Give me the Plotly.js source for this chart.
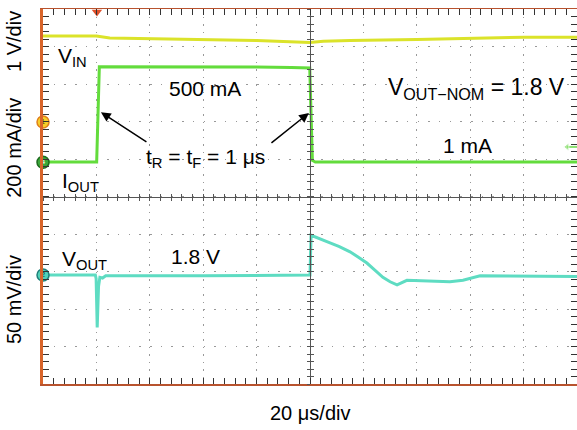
<!DOCTYPE html>
<html>
<head>
<meta charset="utf-8">
<script src="https://cdn.plot.ly/plotly-3.0.1.min.js"></script>
<style>html,body{margin:0;padding:0;background:#fff}#chart{width:577px;height:430px}</style>
</head>
<body>
<div id="chart"></div>
<script>
// ---- data (time in microseconds) ----
const tVin  = [0, 10, 20, 25, 40, 60, 80, 95, 100, 105, 115, 140, 170, 180, 200];
const vin   = [2.29, 2.29, 2.29, 2.24, 2.22, 2.20, 2.17, 2.13, 2.12, 2.15, 2.17, 2.20, 2.24, 2.26, 2.26];

const tIout = [0, 20.1, 21.1, 60, 80, 93, 99.9, 100.9, 102, 200];
const iout  = [1, 1, 510, 510, 508, 505, 503, 10, 1, 1];

const tVout = [0, 19.6, 19.9, 20.3, 20.8, 21.3, 22.3, 23.5, 60, 100, 100.4, 103, 107.5, 111, 115, 118, 121.3, 124.5, 127.3, 130, 132.6, 136.3, 152.4, 157.3, 163.7, 200];
const vout  = [1.800, 1.800, 1.795, 1.730, 1.785, 1.797, 1.796, 1.799, 1.799, 1.800, 1.853, 1.849, 1.843, 1.838, 1.831, 1.824, 1.816, 1.806, 1.797, 1.791, 1.787, 1.793, 1.791, 1.793, 1.799, 1.798];

// channel reference levels & trigger
const chanLabels = ['1', '4', '2'];
const chanLevels = [0, 0, 1.8];        // VIN ground (V), IOUT zero (mA), VOUT offset (V)
const trigTime = 20.2;                  // us
const trigLevel = 82;                   // mA

const FAM = 'Liberation Sans, Arial, sans-serif';
const textFont = {family: FAM, size: 21, color: '#000'};
const bigFont = {family: FAM, size: 23, color: '#000'};
const scaleFont = {family: FAM, size: 20, color: '#000'};

const traces = [
  {x: tVin, y: vin, yaxis: 'y2', mode: 'lines', line: {color: '#dbe32a', width: 3}, hoverinfo: 'skip'},
  {x: tIout, y: iout, yaxis: 'y3', mode: 'lines', line: {color: '#63dc3c', width: 3}, hoverinfo: 'skip'},
  {x: tVout, y: vout, yaxis: 'y4', mode: 'lines', line: {color: '#5edcc2', width: 3}, hoverinfo: 'skip'},
  // channel markers on left border
  {x: [0], y: [chanLevels[0]], yaxis: 'y2', mode: 'markers+text', text: [chanLabels[0]], textposition: 'middle center',
   textfont: {size: 8, color: '#6a4a00'}, marker: {size: 12, color: '#f7cf2a', line: {color: '#e0801a', width: 1.5}}, cliponaxis: false, hoverinfo: 'skip'},
  {x: [0], y: [chanLevels[1]], yaxis: 'y3', mode: 'markers+text', text: [chanLabels[1]], textposition: 'middle center',
   textfont: {size: 8, color: '#ffffff'}, marker: {size: 12, color: '#3aa83a', line: {color: '#1e6a1e', width: 1.5}}, cliponaxis: false, hoverinfo: 'skip'},
  {x: [0], y: [chanLevels[2]], yaxis: 'y4', mode: 'markers+text', text: [chanLabels[2]], textposition: 'middle center',
   textfont: {size: 8, color: '#0a3a3a'}, marker: {size: 12, color: '#52d2b8', line: {color: '#1f7f7a', width: 1.5}}, cliponaxis: false, hoverinfo: 'skip'},
  // trigger time marker
  {x: [trigTime], y: [9.92], yaxis: 'y', mode: 'markers', marker: {symbol: 'triangle-down', size: 9, color: '#e0502a'}, cliponaxis: false, hoverinfo: 'skip'},
  // trigger level marker
  {x: [196.3, 200], y: [trigLevel, trigLevel], yaxis: 'y3', mode: 'lines+markers', line: {color: '#8be070', width: 2},
   marker: {symbol: 'triangle-left', size: [7, 0], color: '#8be070'}, cliponaxis: false, hoverinfo: 'skip'},
  // dummies to register centre-line axes
  {x: [0], y: [0], xaxis: 'x2', yaxis: 'y', mode: 'markers', marker: {opacity: 0}, hoverinfo: 'skip'},
  {x: [0], y: [0], xaxis: 'x3', yaxis: 'y', mode: 'markers', marker: {opacity: 0}, hoverinfo: 'skip'},
  {x: [0], y: [0], xaxis: 'x', yaxis: 'y5', mode: 'markers', marker: {opacity: 0}, hoverinfo: 'skip'},
  {x: [0], y: [0], xaxis: 'x', yaxis: 'y6', mode: 'markers', marker: {opacity: 0}, hoverinfo: 'skip'}
];

const centreX = {overlaying: 'x', anchor: 'free', position: 0.5, range: [0, 200], showline: true, linecolor: '#555', linewidth: 1,
  tick0: 0, dtick: 4, ticklen: 3, tickcolor: '#555', showticklabels: false, showgrid: false, zeroline: false};
const centreY = {overlaying: 'y', anchor: 'free', position: 0.5, range: [0, 10], showline: true, linecolor: '#555', linewidth: 1,
  tick0: 0, dtick: 0.2, ticklen: 3, tickcolor: '#555', showticklabels: false, showgrid: false, zeroline: false};

function label(x, y, text, font, extra) {
  return Object.assign({x: x, y: y, xref: 'x', yref: 'y', text: text, showarrow: false, font: font,
    xanchor: 'center', yanchor: 'middle'}, extra || {});
}

const layout = {
  width: 577, height: 430,
  margin: {l: 43, r: 0, t: 9, b: 46},
  paper_bgcolor: '#fff', plot_bgcolor: '#fff',
  showlegend: false,
  font: {family: FAM},
  xaxis: {range: [0, 200], tick0: 0, dtick: 20, showticklabels: false, ticks: 'inside', ticklen: 6, tickcolor: '#333',
    minor: {dtick: 4, ticks: 'inside', ticklen: 3, tickcolor: '#333', showgrid: false},
    showgrid: true, gridcolor: '#999', gridwidth: 1, griddash: '1.5px,6px', zeroline: false,
    showline: true, linecolor: '#b8532e', linewidth: 1.5, mirror: 'allticks'},
  yaxis: {range: [0, 10], tick0: 0, dtick: 1, showticklabels: false, ticks: 'inside', ticklen: 6, tickcolor: '#333',
    minor: {dtick: 0.2, ticks: 'inside', ticklen: 3, tickcolor: '#333', showgrid: false},
    showgrid: true, gridcolor: '#999', gridwidth: 1, griddash: '1.5px,9.2px', zeroline: false,
    showline: true, linecolor: '#d8642a', linewidth: 3, mirror: 'allticks'},
  yaxis2: {overlaying: 'y', range: [-6.9867, 3.0133], visible: false},
  yaxis3: {overlaying: 'y', range: [-1182.4, 817.6], visible: false},
  yaxis4: {overlaying: 'y', range: [1.6547, 2.1547], visible: false},
  xaxis2: Object.assign({}, centreX, {ticks: 'outside'}),
  xaxis3: Object.assign({}, centreX, {ticks: 'inside'}),
  yaxis5: Object.assign({}, centreY, {ticks: 'outside'}),
  yaxis6: Object.assign({}, centreY, {ticks: 'inside'}),
  annotations: [
    label(11.2, 8.72, 'V<sub>IN</sub>', textFont),
    label(60.7, 7.89, '500 mA', textFont),
    label(162.3, 7.87, 'V<sub>OUT\u2212NOM</sub> = 1.8 V', bigFont),
    label(158.8, 6.37, '1 mA', textFont),
    label(13.9, 5.39, 'I<sub>OUT</sub>', textFont),
    label(60.7, 6.03, 't<sub>R</sub> = t<sub>F</sub> = 1 \u03bcs', textFont),
    label(15.7, 3.31, 'V<sub>OUT</sub>', textFont),
    label(57.3, 3.39, '1.8 V', textFont),
    // arrows
    {x: 21.7, y: 7.25, xref: 'x', yref: 'y', ax: 39.3, ay: 6.43, axref: 'x', ayref: 'y', text: '', showarrow: true,
     arrowhead: 2, arrowsize: 1.3, arrowwidth: 1.5, arrowcolor: '#000'},
    {x: 99.6, y: 7.23, xref: 'x', yref: 'y', ax: 85.0, ay: 6.4, axref: 'x', ayref: 'y', text: '', showarrow: true,
     arrowhead: 2, arrowsize: 1.3, arrowwidth: 1.5, arrowcolor: '#000'},
    // scale labels
    label(-0.0543, 0.912, '1 V/div', scaleFont, {xref: 'paper', yref: 'paper', textangle: -90}),
    label(-0.0543, 0.63, '200 mA/div', scaleFont, {xref: 'paper', yref: 'paper', textangle: -90}),
    label(-0.0543, 0.224, '50 mV/div', scaleFont, {xref: 'paper', yref: 'paper', textangle: -90}),
    label(0.5, -0.077, '20 \u03bcs/div', scaleFont, {xref: 'paper', yref: 'paper'})
  ]
};

Plotly.newPlot('chart', traces, layout, {staticPlot: true, displayModeBar: false});
</script>
</body>
</html>
